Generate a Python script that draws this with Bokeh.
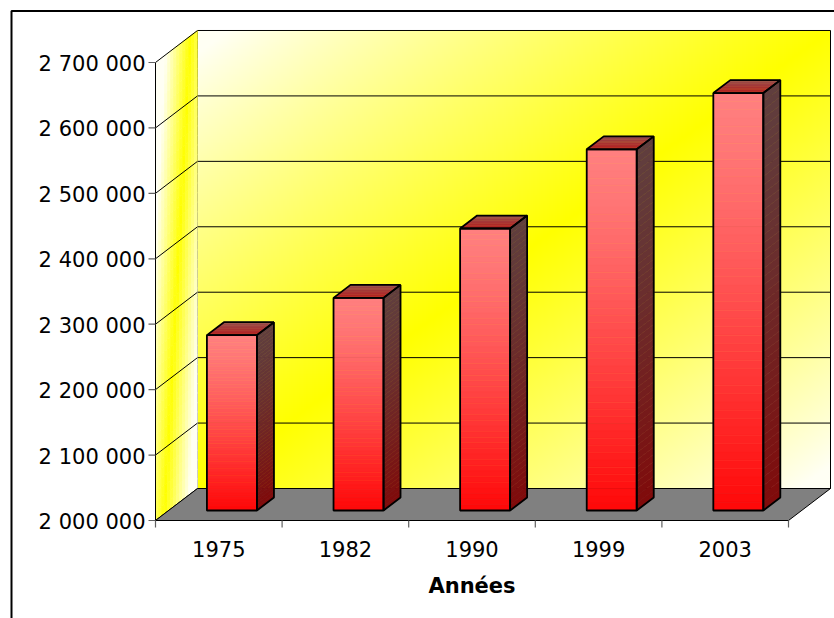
import numpy as np
from bokeh.plotting import figure
from bokeh.models import Range1d
from bokeh.core.properties import value
from bokeh.embed import file_html
from bokeh.resources import INLINE

# ---------------- data ----------------
years = ["1975", "1982", "1990", "1999", "2003"]
population = [2268000, 2325000, 2431000, 2552000, 2638000]
y_ticks = [2000000, 2100000, 2200000, 2300000, 2400000, 2500000, 2600000, 2700000]
y_tick_labels = ["2 000 000", "2 100 000", "2 200 000", "2 300 000",
                 "2 400 000", "2 500 000", "2 600 000", "2 700 000"]
x_title = "Années"

# ---------------- layout (pixels) ----------------
W, H = 834, 618
PX_CAT = 126.6            # px per category
PX_VAL = 65.43 / 100000   # px per unit of population
ORIGIN_X = 155            # canvas px of category 0
ORIGIN_Y = 520            # canvas px of lowest tick
VMIN, VMAX = y_ticks[0], y_ticks[-1]
NCAT = len(years)


def px_x(px):
    return px / PX_CAT


def px_y(px):
    return px / PX_VAL


DX = px_x(42)        # depth offset of the 3D box
DY = px_y(32)
BAR_W = px_x(50)
F0 = 0.3125          # bar front at this fraction of depth
F1 = F0 + 17 / 42.0  # bar back

FONT = value("DejaVu Sans")

p = figure(width=W, height=H, title=None, output_backend="svg", toolbar_location=None,
           x_axis_location=None, y_axis_location=None, min_border=0,
           x_range=Range1d(-ORIGIN_X / PX_CAT, (W - ORIGIN_X) / PX_CAT),
           y_range=Range1d(VMIN - px_y(H - ORIGIN_Y), VMIN + px_y(ORIGIN_Y)))
p.outline_line_color = None
p.background_fill_color = "white"
p.border_fill_color = "white"
p.grid.visible = False


def mix(c0, c1, t):
    t = min(max(t, 0.0), 1.0)
    return "#%02x%02x%02x" % tuple(int(round(a + (b - a) * t)) for a, b in zip(c0, c1))


LIGHT = (255, 255, 244)
YELLOW = (255, 255, 0)

# ---------------- back wall (diagonal gradient image) ----------------
nr, nc = 230, 318
img = np.zeros((nr, nc, 4), dtype=np.uint8)
u = np.linspace(0, 1, nc)[None, :]
vtop = 1 - np.linspace(0, 1, nr)[:, None]   # row 0 is bottom
t = (u + vtop) / 2.0
w = np.clip(1 - np.abs(2 * t - 1) * 1.05, 0, 1) ** 0.9
img[..., 0] = 255
img[..., 1] = 255
img[..., 2] = np.round(LIGHT[2] * (1 - w)).astype(np.uint8)
img[..., 3] = 255
p.image_rgba(image=[img.view(np.uint32).reshape(nr, nc)], x=DX, y=VMIN + DY,
             dw=NCAT, dh=VMAX - VMIN)

# grid lines on back wall
p.multi_line(xs=[[DX, NCAT + DX] for v in y_ticks],
             ys=[[v + DY, v + DY] for v in y_ticks], line_color="black", line_width=1)
# back wall edges
p.line([DX, DX], [VMIN + DY, VMAX + DY], line_color="black", line_width=1)
p.line([NCAT + DX, NCAT + DX], [VMIN + DY, VMAX + DY], line_color="black", line_width=1)

# ---------------- left wall (gradient cells) ----------------
NU, NV = 14, 48
xs, ys, cols = [], [], []
for i in range(NU):
    u0, u1 = i / NU, (i + 1) / NU
    for j in range(NV):
        s0, s1 = j / NV, (j + 1) / NV   # from bottom
        v0 = VMIN + s0 * (VMAX - VMIN)
        v1 = VMIN + s1 * (VMAX - VMIN)
        xs.append([u0 * DX, u1 * DX, u1 * DX, u0 * DX])
        ys.append([v0 + u0 * DY, v0 + u1 * DY, v1 + u1 * DY, v1 + u0 * DY])
        um = (u0 + u1) / 2
        vt = 1 - (s0 + s1) / 2          # fraction from top
        wv = um + 0.62 * vt
        d = abs(wv - 0.84) / 0.6
        cols.append(mix(YELLOW, LIGHT, d))
p.patches(xs, ys, fill_color=cols, line_color=cols, line_width=0.6)

p.multi_line(xs=[[0, DX] for v in y_ticks], ys=[[v, v + DY] for v in y_ticks],
             line_color="black", line_width=1)
p.line([0, 0], [VMIN, VMAX], line_color="black", line_width=1)

# ---------------- floor ----------------
p.patch([0, NCAT, NCAT + DX, DX], [VMIN, VMIN, VMIN + DY, VMIN + DY],
        fill_color="#808080", line_color="black", line_width=1)

# ---------------- bars ----------------
NS = 50
for i, val in enumerate(population):
    c = i + 0.5
    xl = c - BAR_W / 2 + F0 * DX
    xr = c + BAR_W / 2 + F0 * DX
    yb = VMIN + F0 * DY
    yt = val + F0 * DY
    ddx = (F1 - F0) * DX
    ddy = (F1 - F0) * DY
    h = yt - yb
    fq_top, fq_bot, fq_col = [], [], []
    sx, sy, scol = [], [], []
    for k in range(NS):
        f = (k + 0.5) / NS
        y1 = yt - k * h / NS
        y0 = yt - (k + 1) * h / NS
        fq_top.append(y1)
        fq_bot.append(y0)
        g = 128 * (1 - f ** 1.25) + 8 * f
        fq_col.append("#%02x%02x%02x" % (255, int(g), int(g)))
        sx.append([xr, xr + ddx, xr + ddx, xr])
        sy.append([y0, y0 + ddy, y1 + ddy, y1])
        scol.append(mix((96, 62, 62), (128, 10, 10), f ** 1.3))
    p.quad(left=xl, right=xr, top=fq_top, bottom=fq_bot, fill_color=fq_col,
           line_color=fq_col, line_width=0.6)
    p.patches(sx, sy, fill_color=scol, line_color=scol, line_width=0.6)
    # top face
    NT = 8
    tx, ty, tcol = [], [], []
    for k in range(NT):
        a0, a1 = k / NT, (k + 1) / NT
        tx.append([xl + a0 * ddx, xr + a0 * ddx, xr + a1 * ddx, xl + a1 * ddx])
        ty.append([yt + a0 * ddy, yt + a0 * ddy, yt + a1 * ddy, yt + a1 * ddy])
        tcol.append(mix((185, 30, 30), (150, 78, 78), (k + 0.5) / NT))
    p.patches(tx, ty, fill_color=tcol, line_color=tcol, line_width=0.6)
    # outlines
    p.patch([xl, xr, xr, xl], [yb, yb, yt, yt], fill_color=None, line_color="black", line_width=1.8)
    p.patch([xr, xr + ddx, xr + ddx, xr], [yb, yb + ddy, yt + ddy, yt], fill_color=None,
            line_color="black", line_width=1.8)
    p.patch([xl, xr, xr + ddx, xl + ddx], [yt, yt, yt + ddy, yt + ddy], fill_color=None,
            line_color="black", line_width=1.8)

# ---------------- ticks ----------------
p.multi_line(xs=[[px_x(-7), 0] for v in y_ticks], ys=[[v, v] for v in y_ticks],
             line_color="#606060", line_width=1.2)
p.multi_line(xs=[[k, k] for k in range(NCAT + 1)],
             ys=[[VMIN, VMIN - px_y(7)] for k in range(NCAT + 1)],
             line_color="#606060", line_width=1.2)

# ---------------- labels ----------------
p.text(x=[px_x(-10)] * len(y_ticks), y=[v - px_y(1.5) for v in y_ticks], text=y_tick_labels,
       text_font=FONT, text_font_size="21px", text_align="right", text_baseline="middle",
       text_color="black")
p.text(x=[i + 0.5 for i in range(NCAT)], y=[VMIN - px_y(28.5)] * NCAT, text=years,
       text_font=FONT, text_font_size="21px", text_align="center", text_baseline="middle",
       text_color="black")
p.text(x=[NCAT / 2], y=[VMIN - px_y(65)], text=[x_title], text_font=FONT,
       text_font_size="21px", text_font_style="bold", text_align="center",
       text_baseline="middle", text_color="black")

# ---------------- chart-area border ----------------
bx = px_x(11 - ORIGIN_X)
by = VMIN + px_y(ORIGIN_Y - 10.5)
p.line([bx, bx, NCAT + 2], [VMIN - px_y(400), by, by], line_color="black", line_width=2)

open("out.html", "w").write(file_html(p, INLINE))
